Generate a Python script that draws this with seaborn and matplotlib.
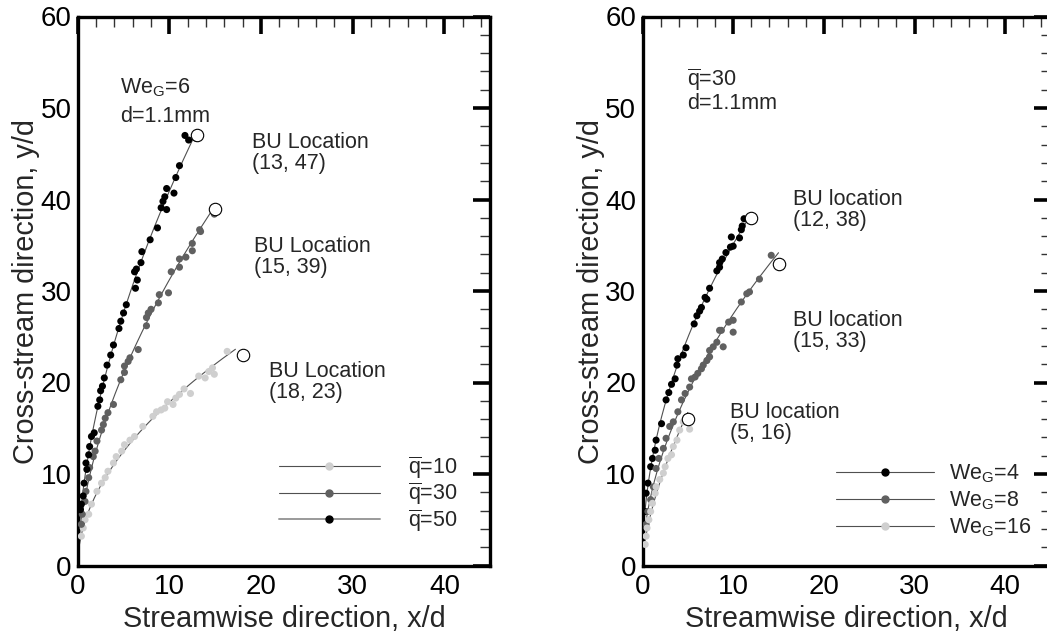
import numpy as np
import pandas as pd
import matplotlib
matplotlib.use("Agg")
import matplotlib.pyplot as plt
from matplotlib.lines import Line2D
from matplotlib.ticker import MultipleLocator
import seaborn as sns

# ---------------- data ----------------
# Left panel: WeG = 6, d = 1.1 mm, varying momentum flux ratio q
q50_x = [12.9, 11.7, 12.1, 11.1, 10.7, 10.5, 9.7, 9.5, 9.3, 9.1, 9.7, 8.7, 7.9, 7.0, 6.9, 6.4, 6.2, 6.5,
         6.3, 5.3, 5.0, 4.7, 4.5, 3.9, 3.6, 3.2, 2.9, 2.7, 2.5, 2.4, 2.2, 1.8, 1.5, 1.3, 1.2, 0.9, 1.0,
         0.7, 0.6, 0.4, 0.3]
q50_y = [46.7, 47.0, 46.5, 43.7, 42.4, 40.7, 41.2, 40.3, 39.8, 39.1, 38.9, 36.9, 35.6, 34.3, 33.1, 32.4, 32.1, 31.2,
         30.3, 28.5, 27.6, 26.7, 25.9, 24.1, 23.0, 21.9, 20.5, 19.6, 19.1, 18.1, 17.4, 14.5, 14.1, 13.0, 12.1, 11.2, 10.5,
         9.0, 7.6, 6.7, 6.1]
q30_x = [14.9, 13.4, 13.3, 12.5, 12.5, 11.8, 11.1, 11.1, 10.2, 9.9, 8.9, 8.8, 8.0, 7.7, 7.5, 7.5, 6.6, 5.7,
         5.5, 5.1, 5.1, 4.7, 3.9, 3.3, 3.0, 2.8, 2.6, 2.1, 1.9, 1.7, 1.3, 1.2, 0.9, 0.8, 0.5, 0.4]
q30_y = [38.4, 36.5, 36.7, 35.2, 34.4, 33.7, 33.5, 32.6, 32.1, 29.8, 29.6, 28.7, 28.0, 27.6, 27.1, 26.2, 23.6, 22.7,
         22.3, 21.8, 21.1, 20.3, 17.6, 16.7, 16.1, 15.4, 14.8, 13.6, 12.5, 11.9, 10.7, 9.6, 8.1, 7.0, 5.6, 4.5]
q10_x = [16.3, 14.7, 14.3, 13.9, 14.9, 13.2, 12.3, 11.6, 11.1, 10.7, 10.4, 9.8, 9.5, 9.1, 8.6, 8.2, 7.1, 6.2,
         5.7, 5.1, 4.8, 4.2, 3.9, 3.3, 3.0, 2.6, 2.1, 1.5, 1.2, 0.8, 0.6, 0.4]
q10_y = [23.4, 21.6, 21.2, 20.5, 20.9, 20.7, 18.8, 19.3, 18.7, 18.3, 17.6, 17.9, 17.2, 17.0, 16.8, 16.3, 15.2, 14.1,
         13.7, 13.2, 12.5, 11.9, 11.2, 10.3, 9.6, 9.0, 8.1, 6.7, 5.6, 5.0, 4.1, 3.2]

# Right panel: q = 30, d = 1.1 mm, varying gas Weber number
we4_x = [11.2, 11.0, 10.9, 10.7, 9.8, 10.0, 9.7, 9.2, 8.8, 8.5, 8.5, 8.2, 7.4, 7.1, 6.9, 6.5, 6.3, 6.0, 5.7,
         4.8, 4.5, 3.9, 3.8, 3.6, 3.2, 2.9, 2.6, 2.1, 1.5, 1.4, 1.1, 0.9, 0.6, 0.4, 0.3]
we4_y = [37.9, 37.1, 36.7, 35.8, 35.9, 34.9, 34.8, 34.2, 33.5, 33.1, 32.6, 32.2, 30.3, 29.1, 29.3, 28.2, 27.8, 27.3, 26.4,
         23.8, 23.0, 22.6, 21.9, 20.4, 19.8, 18.9, 18.1, 15.5, 13.7, 12.6, 11.7, 10.8, 9.0, 7.9, 5.9]
we8_x = [14.2, 12.9, 11.8, 11.5, 10.9, 10.0, 10.0, 9.5, 8.7, 8.5, 8.9, 8.2, 7.8, 7.4, 7.4, 7.1, 6.7, 6.5, 6.1,
         5.8, 5.4, 5.2, 4.7, 4.3, 3.9, 3.4, 3.0, 2.6, 2.3, 1.8, 1.5, 1.2, 0.9, 0.6, 0.4]
we8_y = [33.9, 31.3, 29.9, 29.7, 28.8, 26.8, 25.5, 26.6, 25.7, 25.7, 23.9, 24.4, 23.9, 23.5, 22.8, 22.4, 21.9, 21.5, 21.0,
         20.6, 20.4, 19.5, 18.8, 18.1, 16.8, 15.7, 15.2, 13.9, 12.8, 11.7, 10.6, 8.6, 7.2, 5.9, 4.5]
we16_x = [5.2, 4.5, 4.1, 3.8, 3.4, 3.2, 2.8, 2.5, 2.3, 1.9, 1.5, 1.4, 1.1, 0.9, 0.7, 0.5, 0.4, 0.3]
we16_y = [14.9, 15.7, 14.8, 13.7, 13.0, 12.1, 11.7, 10.8, 10.1, 9.4, 8.6, 7.9, 6.8, 5.9, 5.0, 4.1, 3.2, 2.3]

left_labels = ["q=10", "q=30", "q=50"]
right_labels = ["WeG=4", "WeG=8", "WeG=16"]
left_bu_x = [18, 15, 13]
left_bu_y = [23, 39, 47]
right_bu_x = [12, 15, 5]
right_bu_y = [38, 33, 16]
left_curve_end = [17.2, 15.0, 13.0]
right_curve_end = [11.9, 15.0, 5.0]

# ---------------- style ----------------
sns.set_style("white")
plt.rcParams["font.family"] = ["Liberation Sans", "DejaVu Sans"]
plt.rcParams["mathtext.fontset"] = "custom"
plt.rcParams["mathtext.rm"] = "Liberation Sans"
plt.rcParams["mathtext.it"] = "Liberation Sans"
plt.rcParams["mathtext.bf"] = "Liberation Sans"

light, dark, black = "#cfcfcf", "#606060", "#000000"
fitcol = "#505050"
TICK_FS = 20
LAB_FS = 20.8
TXT_FS = 15.5

fig = plt.figure(figsize=(10.47, 6.37), dpi=100)
ax1 = fig.add_axes([77.7 / 1047, 71.5 / 637, 412.6 / 1047, 549 / 637])
ax2 = fig.add_axes([642.5 / 1047, 71.5 / 637, 408 / 1047, 549 / 637])


def build_df(xs, ys, labels):
    frames = []
    for x, y, lab in zip(xs, ys, labels):
        frames.append(pd.DataFrame({"x": x, "y": y, "series": lab}))
    return pd.concat(frames, ignore_index=True)


def fit_curve(x, y, xend):
    b, loga = np.polyfit(np.log(x), np.log(y), 1)
    xx = np.linspace(0.02, xend, 200)
    return xx, np.exp(loga) * xx ** b


def style_axes(ax):
    ax.set_xlim(0, 45)
    ax.set_ylim(0, 60)
    ax.xaxis.set_major_locator(MultipleLocator(10))
    ax.xaxis.set_minor_locator(MultipleLocator(2))
    ax.yaxis.set_major_locator(MultipleLocator(10))
    ax.yaxis.set_minor_locator(MultipleLocator(2))
    ax.tick_params(which="major", direction="in", length=12, width=2.6,
                   top=True, right=True, labelsize=TICK_FS, colors="black")
    ax.tick_params(axis="x", which="major", pad=6)
    ax.tick_params(axis="y", which="major", pad=4.5)
    ax.tick_params(which="minor", direction="in", length=7, width=1.0,
                   top=True, right=True, colors="#333333")
    for s in ax.spines.values():
        s.set_visible(True)
        s.set_linewidth(2.4)
        s.set_color("black")
    ax.set_xlabel("Streamwise direction, x/d", fontsize=LAB_FS, labelpad=4)
    ax.set_ylabel("Cross-stream direction, y/d", fontsize=LAB_FS, labelpad=0)


def draw_panel(ax, xs, ys, labels, colors, ends, bux, buy):
    df = build_df(xs, ys, labels)
    for x, y, e in zip(xs, ys, ends):
        cx, cy = fit_curve(np.array(x), np.array(y), e)
        sns.lineplot(x=cx, y=cy, ax=ax, color=fitcol, lw=0.8, sort=False, zorder=2)
    sns.scatterplot(data=df, x="x", y="y", hue="series", hue_order=labels,
                    palette=dict(zip(labels, colors)), s=26, linewidth=0,
                    legend=False, ax=ax, zorder=3)
    sns.scatterplot(x=bux, y=buy, ax=ax, s=80, facecolor="white",
                    edgecolor="black", linewidth=0.8, zorder=4)


# ---- left panel ----
draw_panel(ax1, [q10_x, q30_x, q50_x], [q10_y, q30_y, q50_y], left_labels,
           [light, dark, black], left_curve_end, left_bu_x, left_bu_y)
style_axes(ax1)
ax1.text(4.6, 52.2, r"We$_\mathrm{G}$=6", fontsize=TXT_FS, va="center", ha="left")
ax1.text(4.6, 49.1, "d=1.1mm", fontsize=TXT_FS, va="center", ha="left")
for (tx, ty), bx, by in zip([(20.9, 20.1), (19.2, 33.7), (19.0, 45.1)], left_bu_x, left_bu_y):
    ax1.text(tx, ty, f"BU Location\n({bx}, {by})", fontsize=TXT_FS, va="center",
             ha="left", linespacing=1.0)

h1 = [Line2D([], [], color=fitcol, lw=0.8, marker="o", markersize=5,
             markerfacecolor=light, markeredgecolor=light),
      Line2D([], [], color=fitcol, lw=0.8, marker="o", markersize=5,
             markerfacecolor=dark, markeredgecolor=dark),
      Line2D([], [], color="#9a9a9a", lw=1.4, marker="o", markersize=5,
             markerfacecolor=black, markeredgecolor=black)]
l1 = [r"$\overline{\mathrm{q}}$=10", r"$\overline{\mathrm{q}}$=30", r"$\overline{\mathrm{q}}$=50"]
ax1.legend(h1, l1, loc="center left", bbox_to_anchor=(22.0 / 45, 7.8 / 60),
           frameon=False, fontsize=TXT_FS, handlelength=4.65, handletextpad=1.3,
           labelspacing=0.0, numpoints=1, borderpad=0, borderaxespad=0)

# ---- right panel ----
draw_panel(ax2, [we4_x, we8_x, we16_x], [we4_y, we8_y, we16_y], right_labels,
           [black, dark, light], right_curve_end, right_bu_x, right_bu_y)
style_axes(ax2)
ax2.text(4.9, 53.1, r"$\overline{\mathrm{q}}$=30", fontsize=TXT_FS, va="center", ha="left")
ax2.text(4.9, 50.5, "d=1.1mm", fontsize=TXT_FS, va="center", ha="left")
for (tx, ty), bx, by in zip([(16.6, 38.9), (16.6, 25.6), (9.6, 15.6)], right_bu_x, right_bu_y):
    ax2.text(tx, ty, f"BU location\n({bx}, {by})", fontsize=TXT_FS, va="center",
             ha="left", linespacing=1.0)

h2 = [Line2D([], [], color=fitcol, lw=0.8, marker="o", markersize=5,
             markerfacecolor=c, markeredgecolor=c) for c in [black, dark, light]]
l2 = [r"We$_\mathrm{G}$=4", r"We$_\mathrm{G}$=8", r"We$_\mathrm{G}$=16"]
ax2.legend(h2, l2, loc="center left", bbox_to_anchor=(21.3 / 45, 7.1 / 60),
           frameon=False, fontsize=TXT_FS, handlelength=4.55, handletextpad=0.7,
           labelspacing=0.2, numpoints=1, borderpad=0, borderaxespad=0)

fig.savefig("out.png", dpi=100)
